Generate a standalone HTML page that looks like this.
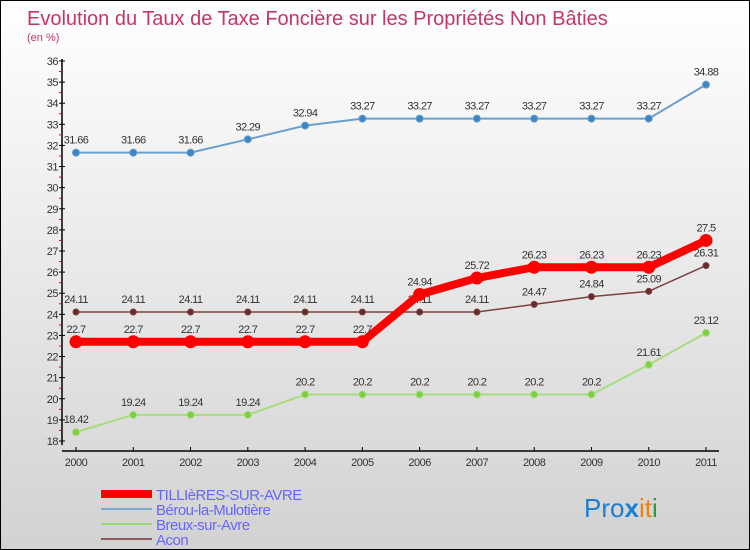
<!DOCTYPE html>
<html><head><meta charset="utf-8"><style>
body{margin:0}
#c{width:750px;height:550px;position:relative;background:linear-gradient(#fff,#d2d2d2);border:1px solid #000;box-sizing:border-box;overflow:hidden;font-family:"Liberation Sans",sans-serif}
svg text{font-family:"Liberation Sans",sans-serif}
</style></head><body>
<div id="c">
<svg id="s" width="750" height="550">
<text x="26" y="24" font-size="20" fill="#c8336a">Evolution du Taux de Taxe Foncière sur les Propriétés Non Bâties</text>
<text x="26" y="40" font-size="11" fill="#c8336a">(en %)</text>
<g id="axes"></g><g id="series"></g>
<g>
<rect x="100" y="489" width="51" height="8" fill="#f00"/>
<text x="155" y="499" font-size="15" fill="#6666ff" letter-spacing="-0.5">TILLIèRES-SUR-AVRE</text>
<line x1="100" x2="151" y1="508" y2="508" stroke="#7aa9cf" stroke-width="2"/>
<text x="155" y="514" font-size="15" fill="#6666ff" letter-spacing="-0.5">Bérou-la-Mulotière</text>
<line x1="100" x2="151" y1="523" y2="523" stroke="#98d870" stroke-width="2"/>
<text x="155" y="529" font-size="15" fill="#6666ff" letter-spacing="-0.5">Breux-sur-Avre</text>
<line x1="100" x2="151" y1="538" y2="538" stroke="#8c5a5a" stroke-width="2"/>
<text x="155" y="544" font-size="15" fill="#6666ff" letter-spacing="-0.5">Acon</text>
</g>
<text x="583" y="516" font-size="26"><tspan fill="#1a7fd4">Pro</tspan><tspan fill="#1a7fd4" font-weight="bold">x</tspan><tspan fill="#f08010">i</tspan><tspan fill="#f08010">t</tspan><tspan fill="#2a9a3a">i</tspan></text>
</svg></div>
<script>
const years=[2000,2001,2002,2003,2004,2005,2006,2007,2008,2009,2010,2011];
const tillieres=[22.7,22.7,22.7,22.7,22.7,22.7,24.94,25.72,26.23,26.23,26.23,27.5];
const berou=[31.66,31.66,31.66,32.29,32.94,33.27,33.27,33.27,33.27,33.27,33.27,34.88];
const breux=[18.42,19.24,19.24,19.24,20.2,20.2,20.2,20.2,20.2,20.2,21.61,23.12];
const acon=[24.11,24.11,24.11,24.11,24.11,24.11,24.11,24.11,24.47,24.84,25.09,26.31];
const yTicks=[18,19,20,21,22,23,24,25,26,27,28,29,30,31,32,33,34,35,36];
const NS="http://www.w3.org/2000/svg";
const x=i=>75+i*(630/(years.length-1));
const y=v=>440-(v-18)*(380/18);
function mk(t,a,p){const e=document.createElementNS(NS,t);for(const k in a)e.setAttribute(k,a[k]);p.appendChild(e);return e;}
const ax=document.getElementById('axes');
const yl=mk('line',{x1:61,x2:61,y1:58,y2:444,stroke:'#000','stroke-width':1.5},ax);


const xl=mk('line',{x1:61,x2:718,y1:450,y2:450,stroke:'#000','stroke-width':1.5},ax);


yTicks.forEach(v=>{
 mk('line',{x1:58,x2:64,y1:y(v),y2:y(v),stroke:'#000'},ax);
 if(v<36)mk('line',{x1:58,x2:61,y1:y(v+0.5),y2:y(v+0.5),stroke:'#e00'},ax);
 const t=mk('text',{x:57,y:y(v)+4,'font-size':11,'text-anchor':'end',fill:'#333','letter-spacing':-0.5},ax);
 t.textContent=v;
 
 
});
years.forEach((yr,i)=>{
 mk('line',{x1:x(i),x2:x(i),y1:446,y2:450,stroke:'#000'},ax);
 const t=mk('text',{x:x(i),y:465,'font-size':11,'text-anchor':'middle',fill:'#333','letter-spacing':-0.5},ax);
 t.textContent=yr;
 
 
});
const sg=document.getElementById('series');
function draw(name,data,col,dot,w,r){
 const g=mk('g',{},sg);
 
 
 mk('polyline',{points:data.map((v,i)=>x(i)+','+y(v)).join(' '),fill:'none',stroke:col,'stroke-width':w},g);
 data.forEach((v,i)=>{
  const c=mk('circle',{cx:x(i),cy:y(v),r:r,fill:dot,stroke:col,'stroke-width':1},g);
  
  
  const t=mk('text',{x:x(i),y:y(v)-9,'font-size':11,'text-anchor':'middle',fill:'#333','letter-spacing':-0.6},g);
  t.textContent=String(v);
  
  
 });
}
draw('berou',berou,'#6a9fd0','#3a86c8',2,3.5);
draw('breux',breux,'#a8dc80','#7cd040',2,3.5);
draw('acon',acon,'#7a4040','#6a2a2a',1.5,3);
draw('tillieres',tillieres,'#f00','#f00',8,6);
</script>
</body></html>
